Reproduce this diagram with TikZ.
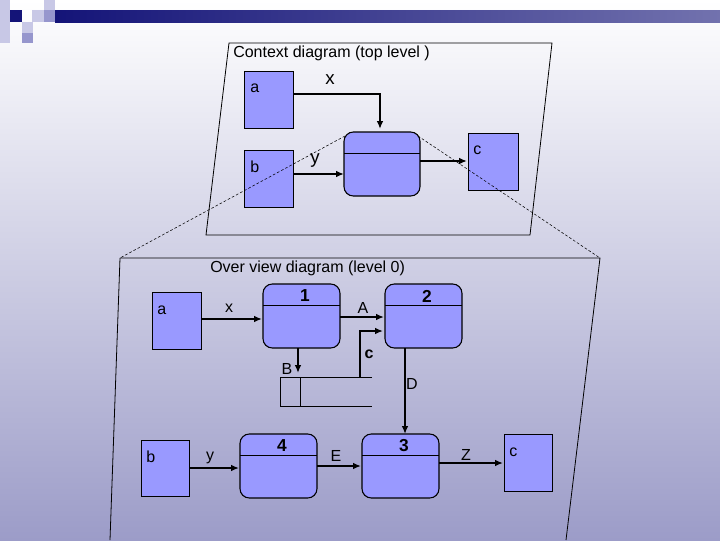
\documentclass[tikz,border=0pt]{standalone}
\usepackage{fontspec}
\setmainfont{Liberation Sans}
\begin{document}
\begin{tikzpicture}[x=0.75pt,y=-0.75pt,
  ent/.style={draw=black,fill=boxc,line width=0.6pt},
  proc/.style={draw=black,fill=boxc,rounded corners=7pt,line width=0.8pt},
  flow/.style={line width=1.5pt,-{Latex[length=6pt,width=5pt]}},
  lbl/.style={font=\fontsize{12}{12}\selectfont,inner sep=0pt},
  big/.style={font=\fontsize{14}{14}\selectfont,inner sep=0pt},
  frame/.style={draw=black,line width=0.6pt}]
\usetikzlibrary{arrows.meta}
\definecolor{boxc}{RGB}{153,153,255}
\definecolor{navy}{RGB}{20,20,120}
\definecolor{bgb}{RGB}{156,156,200}
\definecolor{lsq}{RGB}{200,200,230}
\definecolor{msq}{RGB}{150,150,205}
\useasboundingbox (0,0) rectangle (720,540);
\shade[top color=white,bottom color=bgb] (0,0) rectangle (720,540);
% decoration
\fill[lsq] (0,0) rectangle (10,43);
\fill[navy] (10,10) rectangle (22,22);
\fill[lsq] (32,10) rectangle (44,22);
\fill[lsq] (44,0) rectangle (55,10);
\fill[msq] (44,10) rectangle (55,22);
\fill[lsq] (22,22) rectangle (33,33);
\fill[msq] (22,33) rectangle (33,43);
\shade[left color=navy,right color=navy!60!white] (55,10) rectangle (720,22);
% frames
\draw[frame] (229,43) -- (552,43) -- (530,235) -- (206,235) -- cycle;
\draw[frame] (120,258) -- (600,258) -- (566,540);
\draw[frame] (120,258) -- (110,540);
\node[lbl,anchor=west] (t1) at (233,53) {Context diagram (top level )};
\node[lbl,anchor=west] (t2) at (210,268) {Over view diagram (level 0)};
% top diagram
\node[ent,minimum width=49pt*0.75,minimum height=57pt*0.75,anchor=north west,inner sep=0pt] (ta) at (244,71) {};
\node[lbl,anchor=west] at (250,88) {a};
\node[ent,minimum width=49pt*0.75,minimum height=57pt*0.75,anchor=north west,inner sep=0pt] (tb) at (244,150) {};
\node[lbl,anchor=west] at (250,167) {b};
\node[ent,minimum width=50pt*0.75,minimum height=57pt*0.75,anchor=north west,inner sep=0pt] (tc) at (468,133) {};
\node[lbl,anchor=west] at (473,150) {c};
\draw[proc] (344,132) rectangle (420,196);
\draw[line width=0.6pt] (344,153) -- (420,153);
\draw[dashed,line width=0.4pt,dash pattern=on 2pt off 1.5pt] (345,136) -- (120,258);
\draw[dashed,line width=0.4pt,dash pattern=on 2pt off 1.5pt] (418,136) -- (600,258);
\draw[flow] (293,94) -- (380,94) -- (380,129);
\node[big] at (330,80) {x};
\draw[flow] (293,174) -- (344,174);
\node[big] at (315,160) {y};
\draw[flow] (420,161) -- (467,161);
% bottom diagram
\node[ent,minimum width=49pt*0.75,minimum height=57pt*0.75,anchor=north west,inner sep=0pt] (ba) at (152,292) {};
\node[lbl,anchor=west] at (157,310) {a};
\node[ent,minimum width=48pt*0.75,minimum height=56pt*0.75,anchor=north west,inner sep=0pt] (bb) at (141,440) {};
\node[lbl,anchor=west] at (146,457) {b};
\node[ent,minimum width=48pt*0.75,minimum height=57pt*0.75,anchor=north west,inner sep=0pt] (bc) at (504,434) {};
\node[lbl,anchor=west] at (509,452) {c};
\foreach \n/\x/\y in {1/263/284,2/385/284,4/240/434,3/362/434}{
  \draw[proc] (\x,\y) rectangle ++(77,64);
  \draw[line width=0.6pt] (\x,\y+21) -- ++(77,0);
  \node[lbl,font=\bfseries\fontsize{13}{13}\selectfont] (p\n) at (\x+42,\y+12) {\n};
}
\draw[flow] (201,319) -- (262,319);
\node[lbl] at (229,308) {x};
\draw[flow] (340,317) -- (384,317);
\node[lbl] at (363,308) {A};
\draw[flow] (298,348) -- (298,373);
\node[lbl] at (287,369) {B};
\draw[line width=0.6pt] (372,377) -- (280,377) -- (280,406) -- (372,406);
\draw[line width=0.6pt] (300,377) -- (300,406);
\draw[flow] (360,377) -- (360,331) -- (383,331);
\node[lbl,font=\bfseries\fontsize{12}{12}\selectfont] at (369,354) {c};
\draw[flow] (405,348) -- (405,434);
\node[lbl] at (412,384) {D};
\draw[flow] (189,468) -- (239,468);
\node[lbl] at (210,458) {y};
\draw[flow] (317,466) -- (361,466);
\node[lbl] at (336,456) {E};
\draw[flow] (439,463) -- (503,463);
\node[lbl] at (466,455) {Z};
\end{tikzpicture}
\end{document}
